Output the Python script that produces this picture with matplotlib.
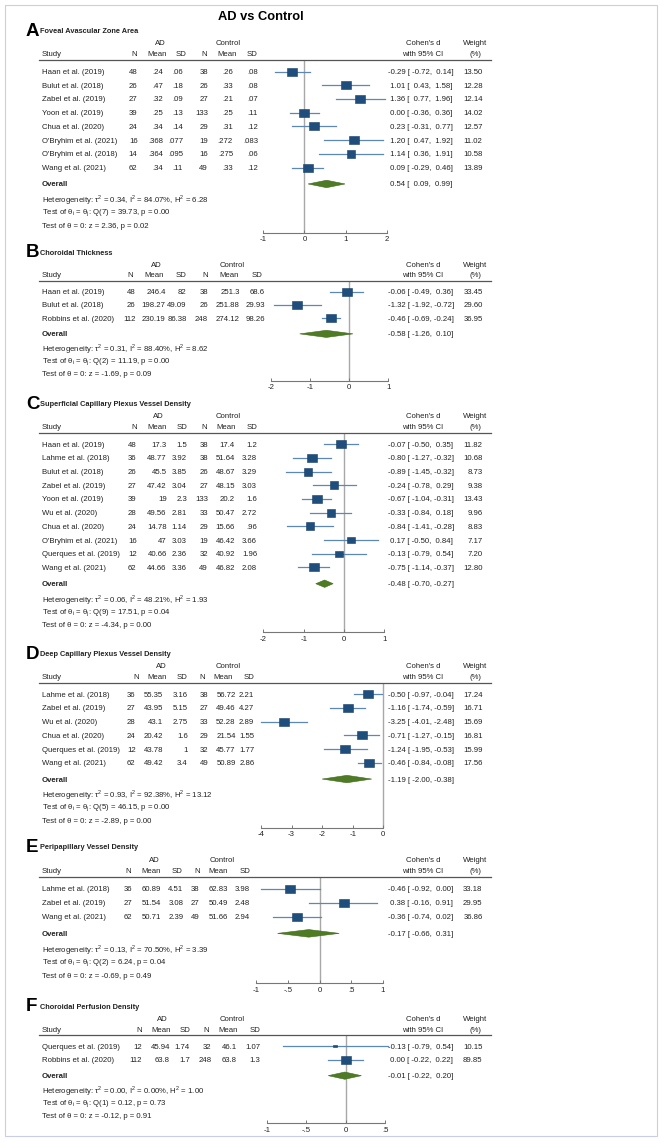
import matplotlib
matplotlib.use("Agg")
import matplotlib.pyplot as plt
from matplotlib.transforms import blended_transform_factory
from matplotlib.patches import Rectangle

plt.rcParams['font.family'] = ['Liberation Sans', 'DejaVu Sans']

W, H = 661, 1141
FS = 5.6
TXT = '#222222'

# ---------------- data ----------------
A_title = "Foveal Avascular Zone Area"
A_study = ["Haan et al. (2019)", "Bulut et al. (2018)", "Zabel et al. (2019)", "Yoon et al. (2019)",
           "Chua et al. (2020)", "O'Bryhim et al. (2021)", "O'Bryhim et al. (2018)", "Wang et al. (2021)"]
A_ad = [("48", ".24", ".06"), ("26", ".47", ".18"), ("27", ".32", ".09"), ("39", ".25", ".13"),
        ("24", ".34", ".14"), ("16", ".368", ".077"), ("14", ".364", ".095"), ("62", ".34", ".11")]
A_ctl = [("38", ".26", ".08"), ("26", ".33", ".08"), ("27", ".21", ".07"), ("133", ".25", ".11"),
         ("29", ".31", ".12"), ("19", ".272", ".083"), ("16", ".275", ".06"), ("49", ".33", ".12")]
A_d = [-0.29, 1.01, 1.36, 0.00, 0.23, 1.20, 1.14, 0.09]
A_lo = [-0.72, 0.43, 0.77, -0.36, -0.31, 0.47, 0.36, -0.29]
A_hi = [0.14, 1.58, 1.96, 0.36, 0.77, 1.92, 1.91, 0.46]
A_w = [13.50, 12.28, 12.14, 14.02, 12.57, 11.02, 10.58, 13.89]
A_overall = (0.54, 0.09, 0.99)
A_het = ("0.34", "84.07", "6.28", "7", "39.73", "0.00", "2.36", "0.02")
A_ticks = [-1, 0, 1, 2]
A_ticklabels = ["-1", "0", "1", "2"]

B_title = "Choroidal Thickness"
B_study = ["Haan et al. (2019)", "Bulut et al. (2018)", "Robbins et al. (2020)"]
B_ad = [("48", "246.4", "82"), ("26", "198.27", "49.09"), ("112", "230.19", "86.38")]
B_ctl = [("38", "251.3", "68.6"), ("26", "251.88", "29.93"), ("248", "274.12", "98.26")]
B_d = [-0.06, -1.32, -0.46]
B_lo = [-0.49, -1.92, -0.69]
B_hi = [0.36, -0.72, -0.24]
B_w = [33.45, 29.60, 36.95]
B_overall = (-0.58, -1.26, 0.10)
B_het = ("0.31", "88.40", "8.62", "2", "11.19", "0.00", "-1.69", "0.09")
B_ticks = [-2, -1, 0, 1]
B_ticklabels = ["-2", "-1", "0", "1"]

C_title = "Superficial Capillary Plexus Vessel Density"
C_study = ["Haan et al. (2019)", "Lahme et al. (2018)", "Bulut et al. (2018)", "Zabel et al. (2019)",
           "Yoon et al. (2019)", "Wu et al. (2020)", "Chua et al. (2020)", "O'Bryhim et al. (2021)",
           "Querques et al. (2019)", "Wang et al. (2021)"]
C_ad = [("48", "17.3", "1.5"), ("36", "48.77", "3.92"), ("26", "45.5", "3.85"), ("27", "47.42", "3.04"),
        ("39", "19", "2.3"), ("28", "49.56", "2.81"), ("24", "14.78", "1.14"), ("16", "47", "3.03"),
        ("12", "40.66", "2.36"), ("62", "44.66", "3.36")]
C_ctl = [("38", "17.4", "1.2"), ("38", "51.64", "3.28"), ("26", "48.67", "3.29"), ("27", "48.15", "3.03"),
         ("133", "20.2", "1.6"), ("33", "50.47", "2.72"), ("29", "15.66", ".96"), ("19", "46.42", "3.66"),
         ("32", "40.92", "1.96"), ("49", "46.82", "2.08")]
C_d = [-0.07, -0.80, -0.89, -0.24, -0.67, -0.33, -0.84, 0.17, -0.13, -0.75]
C_lo = [-0.50, -1.27, -1.45, -0.78, -1.04, -0.84, -1.41, -0.50, -0.79, -1.14]
C_hi = [0.35, -0.32, -0.32, 0.29, -0.31, 0.18, -0.28, 0.84, 0.54, -0.37]
C_w = [11.82, 10.68, 8.73, 9.38, 13.43, 9.96, 8.83, 7.17, 7.20, 12.80]
C_overall = (-0.48, -0.70, -0.27)
C_het = ("0.06", "48.21", "1.93", "9", "17.51", "0.04", "-4.34", "0.00")
C_ticks = [-2, -1, 0, 1]
C_ticklabels = ["-2", "-1", "0", "1"]

D_title = "Deep Capillary Plexus Vessel Density"
D_study = ["Lahme et al. (2018)", "Zabel et al. (2019)", "Wu et al. (2020)", "Chua et al. (2020)",
           "Querques et al. (2019)", "Wang et al. (2021)"]
D_ad = [("36", "55.35", "3.16"), ("27", "43.95", "5.15"), ("28", "43.1", "2.75"), ("24", "20.42", "1.6"),
        ("12", "43.78", "1"), ("62", "49.42", "3.4")]
D_ctl = [("38", "56.72", "2.21"), ("27", "49.46", "4.27"), ("33", "52.28", "2.89"), ("29", "21.54", "1.55"),
         ("32", "45.77", "1.77"), ("49", "50.89", "2.86")]
D_d = [-0.50, -1.16, -3.25, -0.71, -1.24, -0.46]
D_lo = [-0.97, -1.74, -4.01, -1.27, -1.95, -0.84]
D_hi = [-0.04, -0.59, -2.48, -0.15, -0.53, -0.08]
D_w = [17.24, 16.71, 15.69, 16.81, 15.99, 17.56]
D_overall = (-1.19, -2.00, -0.38)
D_het = ("0.93", "92.38", "13.12", "5", "46.15", "0.00", "-2.89", "0.00")
D_ticks = [-4, -3, -2, -1, 0]
D_ticklabels = ["-4", "-3", "-2", "-1", "0"]

E_title = "Peripapillary Vessel Density"
E_study = ["Lahme et al. (2018)", "Zabel et al. (2019)", "Wang et al. (2021)"]
E_ad = [("36", "60.89", "4.51"), ("27", "51.54", "3.08"), ("62", "50.71", "2.39")]
E_ctl = [("38", "62.83", "3.98"), ("27", "50.49", "2.48"), ("49", "51.66", "2.94")]
E_d = [-0.46, 0.38, -0.36]
E_lo = [-0.92, -0.16, -0.74]
E_hi = [0.00, 0.91, 0.02]
E_w = [33.18, 29.95, 36.86]
E_overall = (-0.17, -0.66, 0.31)
E_het = ("0.13", "70.50", "3.39", "2", "6.24", "0.04", "-0.69", "0.49")
E_ticks = [-1, -0.5, 0, 0.5, 1]
E_ticklabels = ["-1", "-.5", "0", ".5", "1"]

F_title = "Choroidal Perfusion Density"
F_study = ["Querques et al. (2019)", "Robbins et al. (2020)"]
F_ad = [("12", "45.94", "1.74"), ("112", "63.8", "1.7")]
F_ctl = [("32", "46.1", "1.07"), ("248", "63.8", "1.3")]
F_d = [-0.13, 0.00]
F_lo = [-0.79, -0.22]
F_hi = [0.54, 0.22]
F_w = [10.15, 89.85]
F_overall = (-0.01, -0.22, 0.20)
F_het = ("0.00", "0.00", "1.00", "1", "0.12", "0.73", "-0.12", "0.91")
F_ticks = [-1, -0.5, 0, 0.5]
F_ticklabels = ["-1", "-.5", "0", ".5"]

# ---------------- layout (pixels) ----------------
# header line y, axis line y, zero x, px per unit, value right edges, header centres, group centres
LAYOUT = {
    'A': (60, 232.7, 304.4, 41.1, [137.5, 163, 183, 208, 233, 258], [134, 156.7, 181.3, 204, 226.7, 251.8], [160, 228.3]),
    'B': (280.7, 380.7, 349.1, 39.2, [135.7, 165.7, 186.7, 208, 240, 265], [130, 153.7, 181.3, 205, 228.8, 257], [156.7, 232.3]),
    'C': (432.7, 632.3, 344, 40.33, [136.7, 166.7, 187, 208, 235, 257], [134.3, 156.7, 181.7, 204.3, 226.3, 251.7], [158, 227.7]),
    'D': (682.7, 827.7, 383.3, 30.58, [135.7, 163.3, 187.7, 208.3, 235.7, 254.3], [136, 156.7, 181.7, 201.7, 223, 248.8], [161.7, 227.7]),
    'E': (876.7, 983.3, 319.5, 63.5, [132.3, 160.7, 183.3, 199.3, 227.7, 250], [128.3, 150.7, 176.7, 196.7, 218, 244.7], [154.3, 221.7]),
    'F': (1035, 1123.3, 345.6, 78.87, [142.3, 170, 190, 211.7, 236.7, 260], [139.3, 161.2, 185, 206, 227.8, 255.3], [162.3, 231.7]),
}

SQ = '#1f4e7c'
CI = '#5b88b8'
DIA = '#4e7b24'
RECT = [(-1.18, -1), (1.18, -1), (1.18, 1), (-1.18, 1), (-1.18, -1)]

fig = plt.figure(figsize=(W / 100, H / 100), dpi=100)


def px(x):
    return x / W


def ci_text(d, lo, hi):
    return f"{d:5.2f} [{lo:6.2f},{hi:6.2f}]"


def panel(letter, title, study, ad, ctl, d, lo, hi, w, overall, het, ticks, ticklabels):
    head_px, axis_px, zero_px, ppu, val_x, hdr_x, grp_x = LAYOUT[letter]
    n = len(study)
    bottom = n + 3.74
    ax = fig.add_axes([0, 1 - axis_px / H, 1, (axis_px - head_px) / H])
    ax.patch.set_visible(False)
    ax.set_xlim(-zero_px / ppu, (W - zero_px) / ppu)
    ax.set_ylim(bottom, -0.84)
    tr = blended_transform_factory(ax.transAxes, ax.transData)
    kw = dict(transform=tr, fontsize=FS, color=TXT, va='center_baseline')

    # titles
    ax.text(px(26), -2.6, letter, transform=tr, fontsize=13.5, fontweight='bold', color='black', va='baseline')
    ax.text(px(40), -2.9, title, transform=tr, fontsize=5.3, fontweight='bold', color=TXT, va='center')

    # headers
    ax.text(px(grp_x[0]), -2.09, "AD", ha='center', **kw)
    ax.text(px(grp_x[1]), -2.09, "Control", ha='center', **kw)
    ax.text(px(423), -2.09, "Cohen's d", ha='center', **kw)
    ax.text(px(475), -2.09, "Weight", ha='center', **kw)
    ax.text(px(42), -1.28, "Study", ha='left', **kw)
    for hx, lab in zip(hdr_x, ["N", "Mean", "SD", "N", "Mean", "SD"]):
        ax.text(px(hx), -1.28, lab, ha='center', **kw)
    ax.text(px(423), -1.28, "with 95% CI", ha='center', **kw)
    ax.text(px(475), -1.28, "(%)", ha='center', **kw)
    ax.plot([px(39), px(491)], [-0.84, -0.84], transform=tr, color='#555555', lw=0.9, clip_on=False)

    ax.axvline(0, color='#a8a8a8', lw=1.0, zorder=0)

    wmax = max(w)
    for i in range(n):
        ax.text(px(42), i, study[i], ha='left', **kw)
        for vx, val in zip(val_x, list(ad[i]) + list(ctl[i])):
            ax.text(px(vx), i, val, ha='right', **kw)
        ax.text(px(388), i, ci_text(d[i], lo[i], hi[i]), ha='left', **kw)
        ax.text(px(482.5), i, f"{w[i]:.2f}", ha='right', **kw)
        ax.plot([lo[i], hi[i]], [i, i], color=CI, lw=0.9, zorder=2)
        ax.plot(d[i], i, marker=RECT, ms=7.4 * (w[i] / wmax) ** 0.5, color=SQ, mec='#173f66', mew=0.4, zorder=3)

    yo = n + 0.19
    est, olo, ohi = overall
    ax.fill([olo, est, ohi, est], [yo, yo - 0.27, yo, yo + 0.27], color=DIA, ec='#3f6a1c', lw=0.4, zorder=3)
    ax.text(px(42), yo, "Overall", ha='left', fontweight='bold', **kw)
    ax.text(px(388), yo, ci_text(est, olo, ohi), ha='left', **kw)

    tau2, i2, h2, df, q, pq, z, pz = het
    ax.text(px(42), yo + 1, f"Heterogeneity: τ$^\\mathregular{{2}}$ = {tau2}, I$^\\mathregular{{2}}$ = {i2}%, "
            f"H$^\\mathregular{{2}}$ = {h2}", ha='left', **kw)
    ax.text(px(42), yo + 2, f"Test of θ$_\\mathregular{{i}}$ = θ$_\\mathregular{{j}}$: Q({df}) = {q}, p = {pq}",
            ha='left', **kw)
    ax.text(px(42), yo + 3, f"Test of θ = 0: z = {z}, p = {pz}", ha='left', **kw)

    for s in ['top', 'left', 'right']:
        ax.spines[s].set_visible(False)
    ax.spines['bottom'].set_bounds(ticks[0], ticks[-1])
    ax.spines['bottom'].set_color('#777777')
    ax.spines['bottom'].set_linewidth(0.8)
    ax.set_yticks([])
    ax.set_xticks(ticks, ticklabels)
    ax.tick_params(axis='x', direction='in', length=2.4, width=0.7, color='#777777',
                   labelcolor=TXT, labelsize=FS, pad=2.5)


panel('A', A_title, A_study, A_ad, A_ctl, A_d, A_lo, A_hi, A_w, A_overall, A_het, A_ticks, A_ticklabels)
panel('B', B_title, B_study, B_ad, B_ctl, B_d, B_lo, B_hi, B_w, B_overall, B_het, B_ticks, B_ticklabels)
panel('C', C_title, C_study, C_ad, C_ctl, C_d, C_lo, C_hi, C_w, C_overall, C_het, C_ticks, C_ticklabels)
panel('D', D_title, D_study, D_ad, D_ctl, D_d, D_lo, D_hi, D_w, D_overall, D_het, D_ticks, D_ticklabels)
panel('E', E_title, E_study, E_ad, E_ctl, E_d, E_lo, E_hi, E_w, E_overall, E_het, E_ticks, E_ticklabels)
panel('F', F_title, F_study, F_ad, F_ctl, F_d, F_lo, F_hi, F_w, F_overall, F_het, F_ticks, F_ticklabels)

fig.text(px(261), 1 - 17 / H, "AD vs Control", ha='center', va='center', fontsize=9.3, fontweight='bold', color='black')
fig.patches.append(Rectangle((px(5), 1 - 1136 / H), px(651.5), 1131 / H, transform=fig.transFigure,
                             fill=False, ec='#c9cde8', lw=0.8))

fig.savefig('out.png', dpi=100)
